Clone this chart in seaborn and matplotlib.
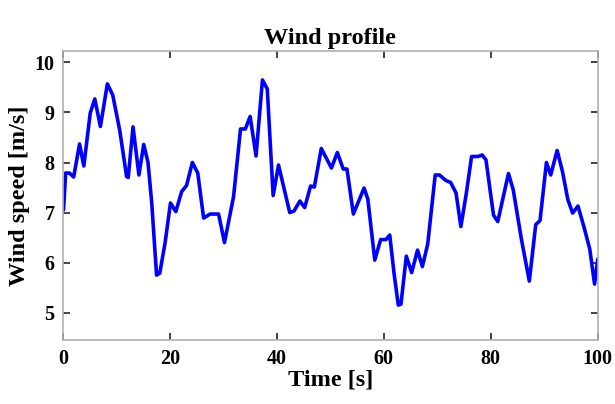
import matplotlib
matplotlib.use("Agg")
import matplotlib.pyplot as plt
import seaborn as sns
import pandas as pd

time_s = [0.1, 0.5, 1.2, 2.0, 3.1, 3.9, 5.1, 5.95, 7.0, 8.3, 9.3, 10.6, 11.9, 12.2, 13.1,
          14.2, 15.1, 15.9, 16.6, 17.5, 18.1, 19.1, 20.1, 21.1, 22.2, 23.1, 24.2, 25.2,
          26.3, 27.5, 29.1, 30.2, 31.9, 33.2, 34.1, 35.0, 36.1, 37.3, 38.2, 39.3, 40.3,
          42.4, 43.2, 44.3, 45.2, 46.3, 47.0, 48.3, 50.2, 51.3, 52.4, 53.1, 54.3, 56.3,
          57.0, 58.3, 59.4, 60.4, 61.1, 61.9, 62.7, 63.2, 64.2, 65.2, 66.3, 67.2, 68.2,
          69.6, 70.4, 71.6, 72.5, 73.5, 74.4, 75.4, 76.4, 77.6, 78.4, 79.1, 80.5, 81.3,
          82.3, 83.3, 84.2, 85.7, 87.2, 88.4, 89.2, 90.4, 91.2, 92.4, 93.4, 94.4, 95.3,
          96.3, 97.5, 98.5, 99.4, 100.0]
wind_speed = [7.05, 7.79, 7.79, 7.71, 8.37, 7.93, 8.99, 9.27, 8.72, 9.57, 9.35, 8.65, 7.72, 7.70, 8.71,
              7.75, 8.36, 8.00, 7.19, 5.75, 5.79, 6.40, 7.19, 7.02, 7.42, 7.54, 8.00, 7.79,
              6.89, 6.97, 6.97, 6.40, 7.32, 8.67, 8.67, 8.92, 8.13, 9.65, 9.47, 7.34, 7.95,
              7.00, 7.03, 7.23, 7.10, 7.53, 7.51, 8.28, 7.89, 8.20, 7.87, 7.87, 6.97, 7.49,
              7.27, 6.05, 6.46, 6.46, 6.55, 5.79, 5.15, 5.17, 6.13, 5.80, 6.25, 5.92, 6.37,
              7.75, 7.75, 7.64, 7.60, 7.39, 6.72, 7.37, 8.12, 8.12, 8.15, 8.05, 6.95, 6.82,
              7.30, 7.78, 7.45, 6.48, 5.63, 6.76, 6.84, 8.00, 7.75, 8.24, 7.82, 7.26, 6.99,
              7.13, 6.68, 6.27, 5.57, 6.07]

x_ticks = [0, 20, 40, 60, 80, 100]
y_ticks = [5, 6, 7, 8, 9, 10]

df = pd.DataFrame({"Time": time_s, "Wind": wind_speed})

sns.set_theme(style="white")
plt.rcParams["font.family"] = ["Liberation Serif", "DejaVu Serif"]
plt.rcParams["font.weight"] = "bold"
plt.rcParams["text.color"] = "black"
plt.rcParams["axes.labelcolor"] = "black"

fig = plt.figure(figsize=(6.15, 4.04), dpi=100)
ax = fig.add_axes([0.1024, 0.158, 0.8696, 0.716])

sns.lineplot(data=df, x="Time", y="Wind", ax=ax, color="#0000ff", linewidth=2.6,
             solid_joinstyle="round", solid_capstyle="round")

ax.set_xlim(0, 100)
ax.set_ylim(4.45, 10.23)
ax.set_xticks(x_ticks)
ax.set_yticks(y_ticks)
ax.set_xticklabels([str(v) for v in x_ticks], fontsize=14.5, fontweight="bold")
ax.set_yticklabels([str(v) for v in y_ticks], fontsize=14.5, fontweight="bold")
ax.tick_params(direction="in", length=5, width=1.2, color="#222222",
               top=True, right=True, bottom=True, left=True, pad=6,
               labelcolor="black")
for s in ax.spines.values():
    s.set_color("#b0b0b0")
    s.set_linewidth(1.2)

ax.set_xlabel("Time [s]", fontsize=17.5, fontweight="bold", labelpad=1, color="black")
ax.set_ylabel("Wind speed [m/s]", fontsize=17.5, fontweight="bold", labelpad=3, color="black")
ax.set_title("Wind profile", fontsize=17.5, fontweight="bold", pad=5, color="black")

fig.savefig("out.png", dpi=100, facecolor="white")
